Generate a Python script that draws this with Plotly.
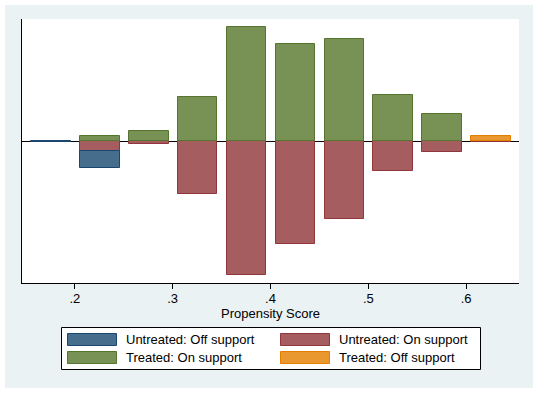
import plotly.graph_objects as go

# ---- data ----
bin_mid = [0.1755, 0.2255, 0.2755, 0.3255, 0.3755, 0.4255, 0.4755, 0.5255, 0.5755, 0.6255]
untreated_off = [1, 17, None, None, None, None, None, None, None, None]
untreated_on = [None, 10, 3, 53, 134, 103, 78, 30, 11, 1]
treated_on = [None, 5, 10, 44, 114, 97, 102, 46, 27, None]
treated_off = [None, None, None, None, None, None, None, None, None, 5]
tick_vals = [0.2, 0.3, 0.4, 0.5, 0.6]
tick_text = [".2", ".3", ".4", ".5", ".6"]
series_names = ["Untreated: Off support", "Untreated: On support",
                "Treated: On support", "Treated: Off support"]

W, H = 538, 394
L, R, T, B = 22, 519, 19, 283
FONT = "Liberation Sans, Arial, sans-serif"
FS = 13

fills = ["#476D8D", "#A55D60", "#789155", "#E8982F"]
lines = ["#1A476F", "#90353B", "#55752F", "#E37E00"]

def neg(v):
    return [None if x is None else -x for x in v]

fig = go.Figure()
series = [neg(untreated_on), neg(untreated_off), treated_on, treated_off]
idx = [1, 0, 2, 3]
for s, i in zip(series, idx):
    fig.add_trace(go.Bar(
        x=bin_mid, y=s, width=0.0406, name=series_names[i],
        marker=dict(color=fills[i], line=dict(color=lines[i], width=1)),
        showlegend=False, hoverinfo="skip"))

def px_x(p):
    return (p - L) / (R - L)

def px_y(p):
    return (B - p) / (B - T)

shapes = []
# white outer frame around the light panel
for x0, y0, x1, y1 in [(0, 0, W, 5), (0, 388, W, H), (0, 0, 5, H), (533, 0, W, H)]:
    shapes.append(dict(type="rect", xref="paper", yref="paper",
                       x0=px_x(x0), x1=px_x(x1), y0=px_y(y1), y1=px_y(y0),
                       fillcolor="white", line=dict(width=0), layer="below"))
# legend box
shapes.append(dict(type="rect", xref="paper", yref="paper",
                   x0=px_x(61.5), x1=px_x(480.5), y0=px_y(369.5), y1=px_y(327.5),
                   fillcolor="white", line=dict(color="black", width=1)))
annotations = []
leg_pos = [(67.5, 333.5), (280.5, 333.5), (67.5, 351.5), (280.5, 351.5)]
for i, (sx, sy) in enumerate(leg_pos):
    shapes.append(dict(type="rect", xref="paper", yref="paper",
                       x0=px_x(sx), x1=px_x(sx + 49), y0=px_y(sy + 12), y1=px_y(sy),
                       fillcolor=fills[i], line=dict(color=lines[i], width=1)))
    annotations.append(dict(xref="paper", yref="paper", x=px_x(sx + 56), y=px_y(sy + 6),
                            text=series_names[i], showarrow=False, xanchor="left",
                            yanchor="middle", font=dict(family=FONT, size=FS, color="black")))

fig.update_layout(
    width=W, height=H,
    margin=dict(l=L, r=W - R, t=T, b=H - B, pad=0),
    paper_bgcolor="#EAF2F3", plot_bgcolor="white",
    barmode="relative", bargap=0,
    font=dict(family=FONT, size=FS, color="black"),
    shapes=shapes, annotations=annotations,
    xaxis=dict(range=[0.146, 0.654], tickvals=tick_vals, ticktext=tick_text,
               ticks="outside", ticklen=5, tickwidth=1, tickcolor="black",
               showline=True, linecolor="black", linewidth=1, showgrid=False,
               zeroline=False, tickfont=dict(family=FONT, size=FS),
               ticklabelstandoff=-2,
               title=dict(text="Propensity Score", standoff=0,
                          font=dict(family=FONT, size=FS))),
    yaxis=dict(range=[-141.7, 122.3], showticklabels=False, ticks="",
               showline=True, linecolor="black", linewidth=1, showgrid=False,
               zeroline=True, zerolinecolor="black", zerolinewidth=1),
)

fig.write_html("out.html", config={"displayModeBar": False},
               post_script="document.body.style.margin='0';")
